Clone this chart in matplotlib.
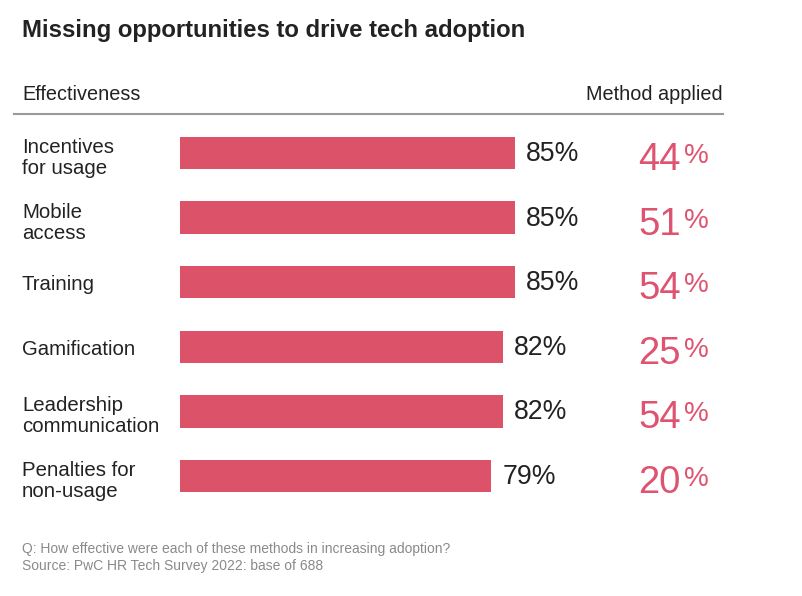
import matplotlib
matplotlib.use("Agg")
import matplotlib.pyplot as plt
import matplotlib.transforms as mtransforms

categories = ["Incentives\nfor usage", "Mobile\naccess", "Training", "Gamification",
              "Leadership\ncommunication", "Penalties for\nnon-usage"]
effectiveness = [85, 85, 85, 82, 82, 79]
method_applied = [44, 51, 54, 25, 54, 20]

title = "Missing opportunities to drive tech adoption"
left_header = "Effectiveness"
right_header = "Method applied"
footnotes = ["Q: How effective were each of these methods in increasing adoption?",
             "Source: PwC HR Tech Survey 2022: base of 688"]

BAR = "#DC5369"
PINK = "#DE5470"
DARK = "#222222"
GREY = "#8a8a8a"
FONT = "Liberation Sans"

W, H = 802, 596
fig = plt.figure(figsize=(W / 100, H / 100), dpi=100)
fig.patch.set_facecolor("white")

def fx(px):
    return px / W

def fy(py):
    return 1 - py / H

PT = 0.72  # points per pixel at 100 dpi

# Axes: x=0 at px 180, 3.94 px per percent; rows centred at 153 ... 476
x0, scale = 180, 3.94
top, bottom = 153 - 32.3, 476 + 32.3
ax = fig.add_axes([fx(x0), fy(bottom), 100 * scale / W, (bottom - top) / H])
ax.set_xlim(0, 100)
ax.set_ylim(len(categories) - 0.5, -0.5)
ax.axis("off")

ypos = list(range(len(categories)))
ax.barh(ypos, effectiveness, height=0.5, color=BAR, edgecolor="none")

trans = mtransforms.blended_transform_factory(fig.transFigure, ax.transData)
for i, (v, m, c) in enumerate(zip(effectiveness, method_applied, categories)):
    ax.annotate(f"{v}%", xy=(v, i), xytext=(8, -8 * PT), textcoords="offset points",
                ha="left", va="baseline", fontsize=19.2, color=DARK, family=FONT)
    lines = c.split("\n")
    if len(lines) == 1:
        offs = [8]
    else:
        offs = [0, 21]
    for ln, o in zip(lines, offs):
        ax.annotate(ln, xy=(fx(22), i), xycoords=trans, xytext=(0, -o * PT),
                    textcoords="offset points", ha="left", va="baseline",
                    fontsize=14.7, color=DARK, family=FONT)
    ax.annotate(f"{m}", xy=(fx(681), i), xycoords=trans, xytext=(0, -17 * PT),
                textcoords="offset points", ha="right", va="baseline",
                fontsize=27.5, color=PINK, family=FONT)
    ax.annotate("%", xy=(fx(684), i), xycoords=trans, xytext=(0, -10 * PT),
                textcoords="offset points", ha="left", va="baseline",
                fontsize=20, color=PINK, family=FONT)

fig.text(fx(22), fy(30), title, ha="left", va="center", fontsize=17.2,
         fontweight="bold", color=DARK, family=FONT)
fig.text(fx(22), fy(95), left_header, ha="left", va="center", fontsize=14.3,
         color=DARK, family=FONT)
fig.text(fx(723), fy(95), right_header, ha="right", va="center", fontsize=14.3,
         color=DARK, family=FONT)
fig.add_artist(plt.Line2D([fx(14), fx(723)], [fy(114), fy(114)], color="#9a9a9a",
                          lw=1.5, transform=fig.transFigure))
fig.text(fx(22), fy(549), footnotes[0], ha="left", va="center", fontsize=10,
         color=GREY, family=FONT)
fig.text(fx(22), fy(566), footnotes[1], ha="left", va="center", fontsize=10,
         color=GREY, family=FONT)

fig.savefig("out.png", dpi=100, facecolor="white")
